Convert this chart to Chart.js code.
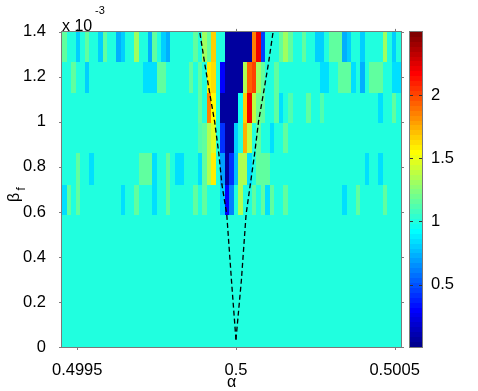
<!DOCTYPE html>
<html>
<head>
<meta charset="utf-8">
<script src="https://cdn.jsdelivr.net/npm/chart.js@4/dist/chart.umd.min.js"></script>
<style>
html,body{margin:0;padding:0;background:#fff;}
#wrap{position:relative;width:478px;height:391px;}
</style>
</head>
<body>
<div id="wrap"><canvas id="c" width="478" height="391"></canvas></div>
<script>
// ---------- data ----------
const alphaTicks = [0.4995, 0.5, 0.5005];
const alphaTickLabels = ['0.4995', '0.5', '0.5005'];
const betaTicks = [0, 0.2, 0.4, 0.6, 0.8, 1, 1.2, 1.4];          // ×10^-3
const betaTickLabels = ['0', '0.2', '0.4', '0.6', '0.8', '1', '1.2', '1.4'];
const colorTicks = [0.5, 1, 1.5, 2];
const colorTickLabels = ['0.5', '1', '1.5', '2'];
const alphaRange = [0.499452, 0.50052];
const betaRange = [0, 1.4];
const colorRange = [0.006, 2.5];
// row boundaries in beta (×10^-3), bottom to top
const betaEdges = [0, 0.585, 0.72, 0.86, 0.995, 1.13, 1.265, 1.4];

// cell values, one array per beta band (left to right in alpha)
const rowBand0 = [ // 0 – 0.585
 1,1,1,1,1,1,1,1,1,1,1,1,1,1,1,
 1,1,1,1,1,1,1,1,1,1,1,1,1,1,1,
 1,1,1,1,1,1,1,1,1,1,1,1,1,1,1,
 1,1,1,1,1,1,1,1,1,1,1,1,1,1,1,
 1,1,1,1,1,1,1,1,1,1,1,1,1,1,1];
const rowBand1 = [ // 0.585 – 0.72
 0.85,1.15,1,1.15,1,1,1,1,1,1,1,1,1,0.85,1,
 1,1.15,1,1,1,0.85,1,1,1.15,1,1,1,1,1,1.15,
 1,1.15,1,1,1,0.8,0.3,0.6,1,1.35,1,1,1.15,1,1.15,
 0.85,1.15,1,1,1.15,1,1,1,1,1,1,1,1,1,1,
 1,1,0.85,1,1,1.15,1,1,1,1,1,1.15,1,1,1];
const rowBand2 = [ // 0.72 – 0.86
 1,1,1,1.15,1,1,0.85,1,1,1,1,1,1,1,1,
 1,1,1.15,1.15,1.15,0.85,1,1,1.15,1,0.85,0.85,1,1,1,
 0.85,1.15,1.35,1.6,1,0.7,0.05,0.4,0.75,1.35,1.35,0.85,1,1.15,1.15,
 1.15,1,1,1,1,1,1,1,1,1,1,1,1,1,1,
 1,1,1,1,1,1,1,0.85,1,1,0.85,1,1,1,1];
const rowBand3 = [ // 0.86 – 0.995
 1,1,1,1,1,1,1,1,1,1,1,1,1,1,1,
 1,1,1,1,1,1,1,1,1,1,1,1,1,1,1,
 1.1,1.15,1.35,1.45,1,0.4,0.05,0.05,0.8,1,1.75,1.4,1,1.15,1,
 1,0.85,1,1,1.15,1,1,1,1,1,1,1,1,1,1,
 1,1,1,1,1,1,1,1,1,1,1,1,1,1,1];
const rowBand4 = [ // 0.995 – 1.13
 1,1,1,1,1,1,1,1,1,1,1,1,1,1,1,
 1,1,1,1,1,1,1,1,1,1,1,1,1,1,1,
 1.15,1,1.85,1.55,1,0.05,0.05,0.05,0.05,0.95,1.65,2.2,1.4,1.2,1.15,
 1,1,1.15,0.85,1,1.1,1,1,1,1.15,1,1,1.1,1,1,
 1,1,1,1,1,1,1,1,1,1,0.85,1,1,1.15,1];
const rowBand5 = [ // 1.13 – 1.265
 1,1,1.15,1,1,0.82,1,1,1,1,1,1,1,1,1,
 1,1,1,0.85,0.85,0.85,1.15,1.15,1,1,1,1,1,1.15,1,
 1.15,1,1.6,1.62,1,0.3,0.05,0.05,0.05,0.05,1.35,1.95,2.0,1.3,1.15,
 1,1,1.15,1,1,1,1,1,1,1,1,1,0.85,0.85,1,
 1,1.15,1.15,1.15,0.85,1,0.72,1,1.15,1.15,1.15,1,1,0.85,0.85];
const rowBand6 = [ // 1.265 – 1.4
 1.15,1,1,0.82,1,1.15,1,1,0.82,1.15,1,1,0.72,0.82,1,
 1,1.3,1,1,0.72,1.15,1,0.82,0.72,1,1,1,1,1,1.15,
 1,1.3,1.15,1.68,1,1,0.05,0.05,0.05,0.05,0.05,0.05,1.85,2.2,0.45,
 1,1,1,1.15,1.3,1.15,1,1,1.15,1,1,0.82,0.82,1,1.15,
 1.15,1.15,0.72,0.82,1,1,0.82,1,1,1,1,1.3,1,0.82,1];

// dashed boundary curves (beta ×10^-3 → alpha)
const boundaryBeta  = [0.033, 0.294, 0.59, 0.72, 0.86, 1.0, 1.13, 1.265, 1.4];
const boundaryLeft  = [0.5, 0.499986, 0.499971, 0.499956, 0.499946, 0.499933, 0.499917, 0.499901, 0.499886];
const boundaryRight = [0.5, 0.500017, 0.500032, 0.500045, 0.500059, 0.500071, 0.500087, 0.500103, 0.500117];

// ---------- rendering ----------
const gridRows = [rowBand0, rowBand1, rowBand2, rowBand3, rowBand4, rowBand5, rowBand6];
const nCols = rowBand0.length;
const alphaEdge = c => alphaRange[0] + c * (alphaRange[1] - alphaRange[0]) / nCols;

// MATLAB-style jet(64) colormap
function jetU(k) {
  if (k < 1 || k > 47) return 0;
  if (k <= 16) return k / 16;
  if (k <= 31) return 1;
  return (48 - k) / 16;
}
function jet(v) {
  const t = (v - colorRange[0]) / (colorRange[1] - colorRange[0]);
  const row = Math.max(1, Math.min(64, Math.floor(t * 64) + 1));
  const r = Math.round(255 * jetU(row - 24));
  const g = Math.round(255 * jetU(row - 8));
  const b = Math.round(255 * jetU(row + 8));
  return 'rgb(' + r + ',' + g + ',' + b + ')';
}

const FONT = 'Liberation Sans, Arial, sans-serif';
const AXIS_GRAY = '#7a7a7a';

const heatmapPlugin = {
  id: 'heatmap',
  beforeDatasetsDraw(chart) {
    const {ctx, chartArea: ca, scales: {x, y}} = chart;
    ctx.save();
    ctx.beginPath();
    ctx.rect(ca.left, ca.top, ca.right - ca.left, ca.bottom - ca.top);
    ctx.clip();
    gridRows.forEach((row, r) => {
      const yT = Math.round(y.getPixelForValue(betaEdges[r + 1]));
      const yB = Math.round(y.getPixelForValue(betaEdges[r]));
      row.forEach((v, c) => {
        const x0 = Math.round(x.getPixelForValue(alphaEdge(c)));
        const x1 = Math.round(x.getPixelForValue(alphaEdge(c + 1)));
        ctx.fillStyle = jet(v);
        ctx.fillRect(x0, yT, x1 - x0, yB - yT);
      });
    });
    ctx.restore();
  },
  afterDraw(chart) {
    const {ctx, chartArea: ca, scales: {x, y, cb}} = chart;
    ctx.save();
    // axes frame
    ctx.strokeStyle = AXIS_GRAY;
    ctx.lineWidth = 1;
    ctx.strokeRect(Math.round(ca.left) - 0.5, Math.round(ca.top) - 0.5,
                   Math.round(ca.right - ca.left) + 1, Math.round(ca.bottom - ca.top) + 1);
    // outward ticks
    ctx.beginPath();
    alphaTicks.forEach(v => {
      const px = Math.round(x.getPixelForValue(v)) + 0.5;
      ctx.moveTo(px, ca.bottom); ctx.lineTo(px, ca.bottom + 3);
      ctx.moveTo(px, ca.top); ctx.lineTo(px, ca.top - 3);
    });
    betaTicks.forEach(v => {
      const py = Math.round(y.getPixelForValue(v)) + 0.5;
      ctx.moveTo(ca.left, py); ctx.lineTo(ca.left - 3, py);
      ctx.moveTo(ca.right, py); ctx.lineTo(ca.right + 3, py);
    });
    ctx.stroke();

    // colorbar
    const cbL = ca.right + 9, cbR = ca.right + 21;
    const top = Math.round(cb.getPixelForValue(colorRange[1]));
    const bot = Math.round(cb.getPixelForValue(colorRange[0]));
    for (let py = top; py < bot; py++) {
      ctx.fillStyle = jet(cb.getValueForPixel(py + 0.5));
      ctx.fillRect(cbL, py, cbR - cbL, 1);
    }
    ctx.strokeStyle = AXIS_GRAY;
    ctx.strokeRect(cbL - 0.5, top - 0.5, cbR - cbL + 1, bot - top + 1);
    ctx.beginPath();
    colorTicks.forEach(v => {
      const py = Math.round(cb.getPixelForValue(v)) + 0.5;
      ctx.moveTo(cbL, py); ctx.lineTo(cbL + 3, py);
      ctx.moveTo(cbR, py); ctx.lineTo(cbR - 3, py);
    });
    ctx.strokeStyle = '#333';
    ctx.stroke();

    // exponent label
    ctx.fillStyle = '#000';
    ctx.textBaseline = 'alphabetic';
    ctx.textAlign = 'left';
    ctx.font = '16px ' + FONT;
    ctx.fillText('x 10', ca.left, ca.top - 1);
    ctx.font = '11px ' + FONT;
    ctx.fillText('-3', ca.left + 33, ca.top - 18);

    // subscript f of the y title
    ctx.translate(19, (ca.top + ca.bottom) / 2);
    ctx.rotate(-Math.PI / 2);
    ctx.font = '12px ' + FONT;
    ctx.textAlign = 'left';
    ctx.textBaseline = 'middle';
    ctx.fillText('f', -1, 3);
    ctx.restore();
  }
};

const lineStyle = {
  showLine: true, pointRadius: 0, borderColor: '#000', borderWidth: 1.3,
  borderDash: [5, 3], fill: false, tension: 0
};

new Chart(document.getElementById('c'), {
  type: 'scatter',
  data: {
    datasets: [
      Object.assign({label: 'left boundary', data: boundaryBeta.map((b, i) => ({x: boundaryLeft[i], y: b}))}, lineStyle),
      Object.assign({label: 'right boundary', data: boundaryBeta.map((b, i) => ({x: boundaryRight[i], y: b}))}, lineStyle)
    ]
  },
  options: {
    responsive: false,
    animation: false,
    devicePixelRatio: 1,
    layout: {padding: {top: 29, left: 0, right: 0, bottom: 0}},
    plugins: {legend: {display: false}, tooltip: {enabled: false}},
    scales: {
      x: {
        type: 'linear', min: alphaRange[0], max: alphaRange[1],
        afterBuildTicks: s => { s.ticks = alphaTicks.map(v => ({value: v})); },
        afterFit: s => { s.height = 44; },
        ticks: {callback: (v, i) => alphaTickLabels[i], color: '#000', font: {family: FONT, size: 16.5}, padding: 6, maxRotation: 0, autoSkip: false},
        grid: {display: false}, border: {display: false},
        title: {display: true, text: 'α', color: '#000', font: {family: FONT, size: 16}, padding: {top: 0, bottom: -1}}
      },
      y: {
        type: 'linear', min: betaRange[0], max: betaRange[1],
        afterBuildTicks: s => { s.ticks = betaTicks.map(v => ({value: v})); },
        afterFit: s => { s.width = 62; },
        ticks: {callback: (v, i) => betaTickLabels[i], color: '#000', font: {family: FONT, size: 16.5}, padding: 8, autoSkip: false},
        grid: {display: false}, border: {display: false},
        title: {display: true, text: 'β\u2003', color: '#000', font: {family: FONT, size: 16}, padding: {top: 5, bottom: 0}}
      },
      cb: {
        type: 'linear', axis: 'y', position: 'right', min: colorRange[0], max: colorRange[1],
        afterBuildTicks: s => { s.ticks = colorTicks.map(v => ({value: v})); },
        afterFit: s => { s.width = 77; },
        ticks: {callback: (v, i) => colorTickLabels[i], color: '#000', font: {family: FONT, size: 16.5}, padding: 22, autoSkip: false},
        grid: {display: false}, border: {display: false}
      }
    }
  },
  plugins: [heatmapPlugin]
});
</script>
</body>
</html>
